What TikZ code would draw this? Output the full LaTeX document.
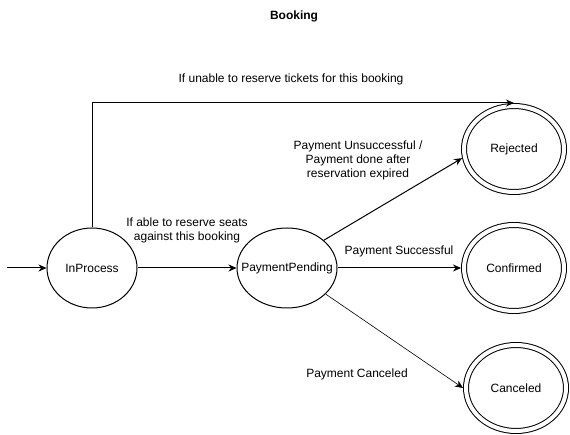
\documentclass[tikz,border=0pt]{standalone}
\usepackage{fontspec}
\setmainfont{Liberation Sans}
\usetikzlibrary{positioning}
\usetikzlibrary{shapes.geometric}
\usetikzlibrary{arrows.meta}

\begin{document}
\begin{tikzpicture}[x=1pt,y=-1pt,line width=1pt,
        every node/.style={font=\fontsize{12}{14}\selectfont},
        state/.style={draw, ellipse, inner sep=0pt, minimum width=90pt, minimum height=80pt},
        final/.style={draw, ellipse, inner sep=0pt, minimum width=100pt, minimum height=86pt,
            double, double distance=4pt, outer sep=3pt},
        lbl/.style={align=center},
        trans/.style={-{Stealth[length=8pt,width=7pt]}}]
        \useasboundingbox (0,0) rectangle (570,435);

        \node[font=\fontsize{12}{14}\selectfont\bfseries] (title) at (294,16) {Booking};

        \coordinate (entry) at (7,268);
        \node[state] (inprocess) at (92,268) {InProcess};
        % text kept out of the ellipse size
        \node[state, minimum width=100pt] (pending) at (287,268) {\makebox[0pt]{PaymentPending}};
        \node[final] (rejected) at (514,149) {Rejected};
        \node[final] (confirmed) at (514,268) {Confirmed};
        \node[final] (canceled) at (516,388) {Canceled};

        \draw[trans] (entry) -- (inprocess);
        \draw[trans] (inprocess) -- (pending);
        \draw[trans] (inprocess.north) |- (rejected.north);
        \draw[trans] (pending.37) -- (rejected.190);
        \draw[trans] (pending.east) -- (confirmed.west);
        \draw[trans, line width=0.6pt] (pending.-34) -- (canceled.west);

        \node[lbl] (unable) at (291,79) {If unable to reserve tickets for this booking};
        \node[lbl] (able) at (187,230) {If able to reserve seats\\against this booking};
        \node[lbl] (unsucc) at (358,160) {Payment Unsuccessful /\\Payment done after\\reservation expired};
        \node[lbl] (succ) at (399,251) {Payment Successful};
        \node[lbl] (cancel) at (357,374) {Payment Canceled};
    \end{tikzpicture}
\end{document}
